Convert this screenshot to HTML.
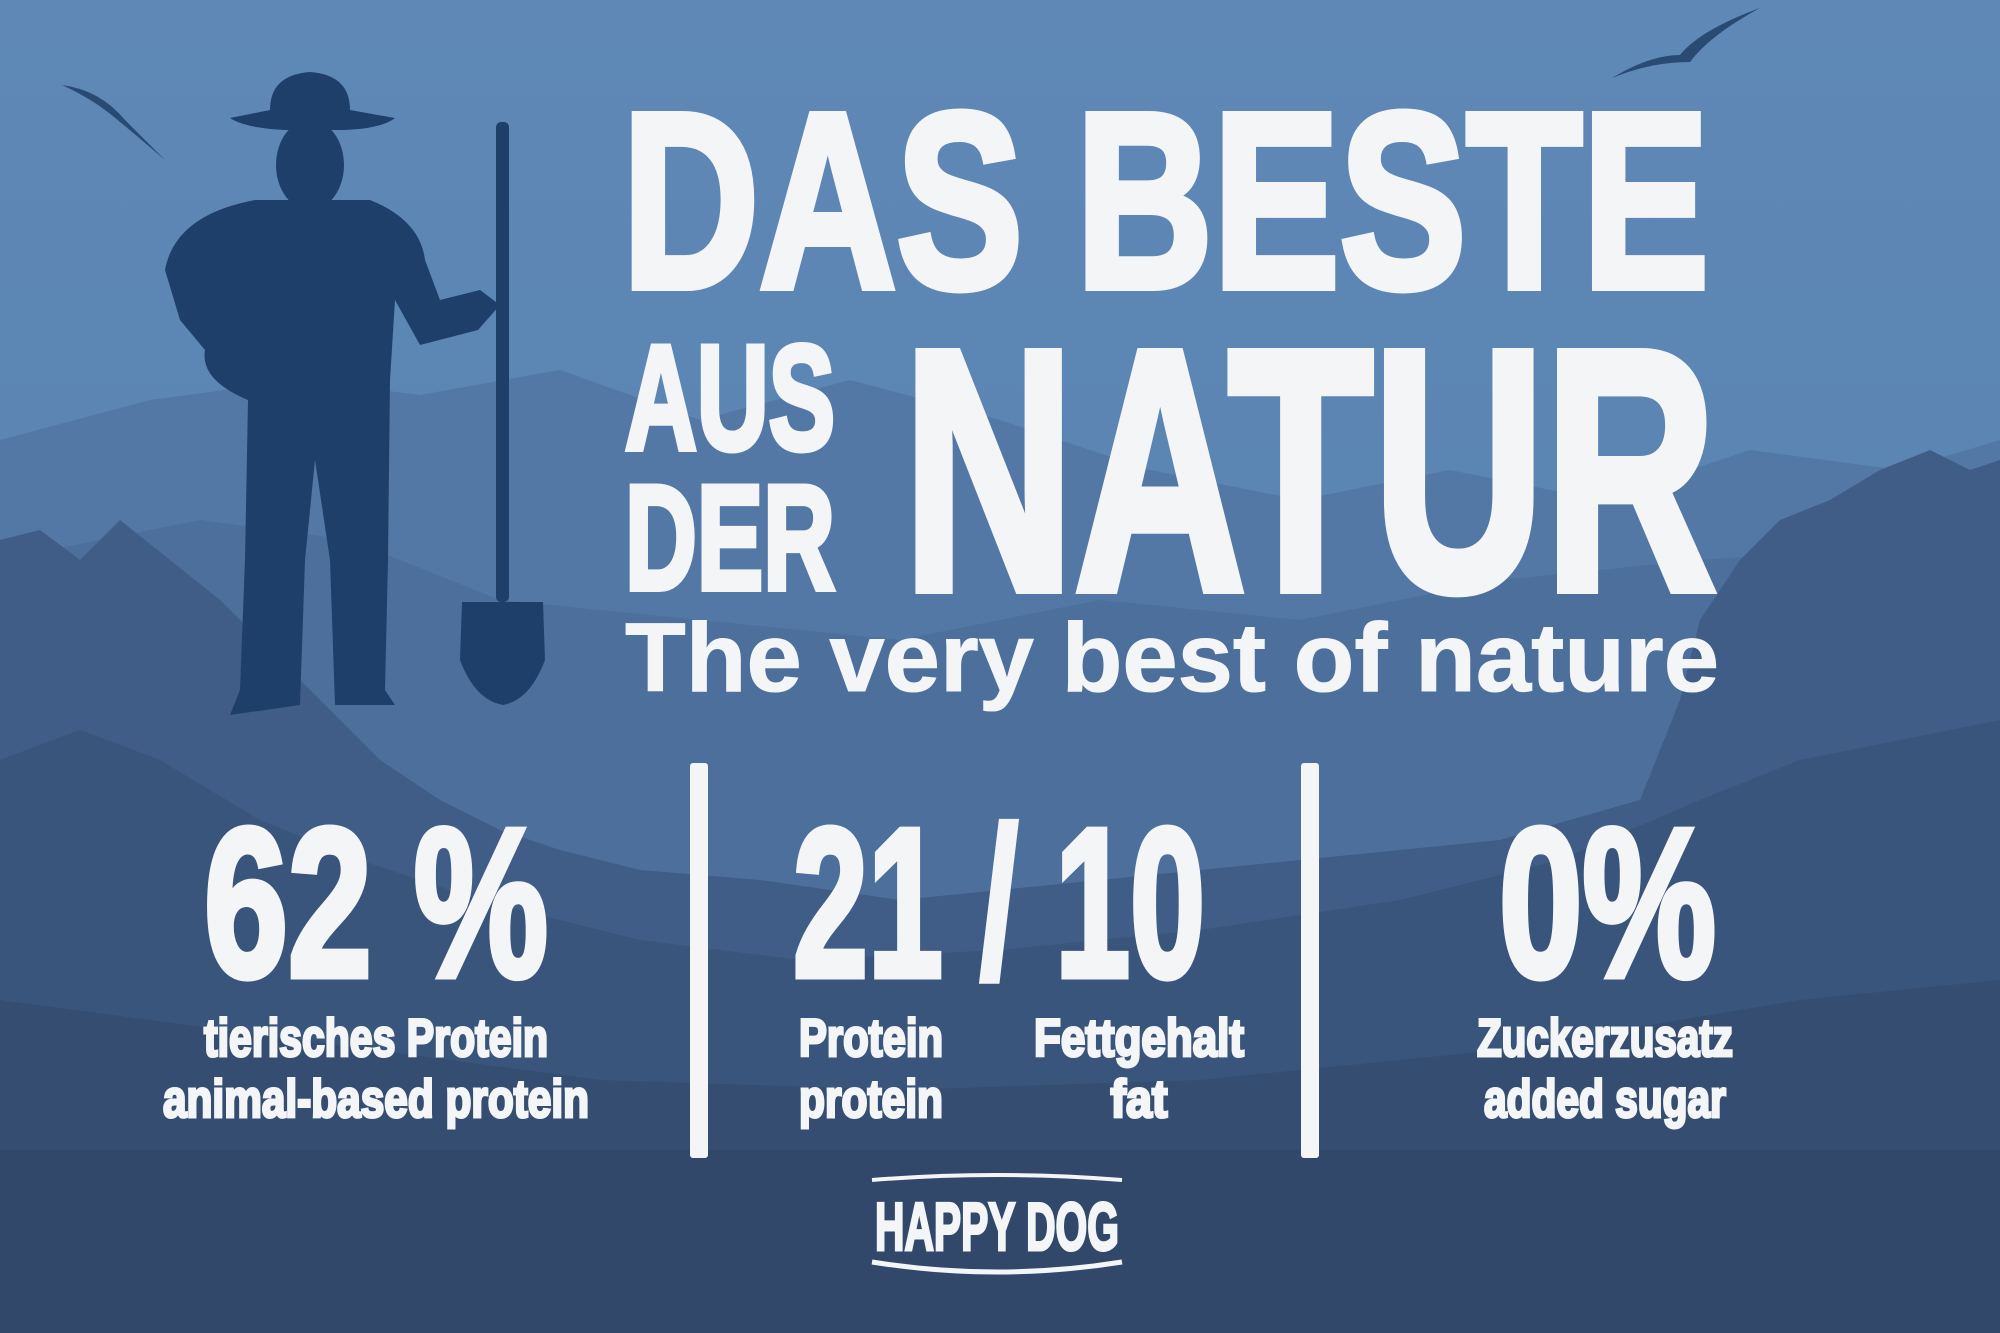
<!DOCTYPE html>
<html><head><meta charset="utf-8"><style>
html,body{margin:0;padding:0;width:2000px;height:1333px;overflow:hidden;background:#4a6d98}
svg{display:block}
.t{font-family:"Liberation Sans Narrow","Liberation Sans",sans-serif;font-weight:bold;fill:#f4f5f7;stroke:#f4f5f7;stroke-width:3}
</style></head><body>
<svg width="2000" height="1333" viewBox="0 0 2000 1333" xmlns="http://www.w3.org/2000/svg">
<defs>
<linearGradient id="sky" x1="0" y1="0" x2="0" y2="1">
<stop offset="0" stop-color="#5f88b7"/><stop offset="0.45" stop-color="#5a84b2"/><stop offset="1" stop-color="#4d719d"/>
</linearGradient>
</defs>
<rect width="2000" height="1333" fill="url(#sky)"/>
<path d="M0 440 L150 400 L300 380 L420 395 L560 370 L700 420 L850 380 L1000 420 L1150 470 L1300 500 L1450 470 L1600 500 L1750 450 L1900 470 L2000 440 L2000 1333 L0 1333Z" fill="#5378a5"/>
<path d="M0 560 L200 520 L350 540 L500 600 L700 620 L900 640 L1100 600 L1300 620 L1500 580 L1700 560 L2000 540 L2000 1333 L0 1333Z" fill="#4c6f9b"/>
<path d="M0 540 L40 530 L80 560 L120 520 L170 560 L220 600 L260 640 L320 700 L380 760 L440 800 L500 830 L560 850 L640 870 L760 880 L900 900 L1100 880 L1300 860 L1500 840 L1640 800 L1680 700 L1700 620 L1740 560 L1780 520 L1830 500 L1880 470 L1930 450 L1970 470 L2000 460 L2000 1333 L0 1333Z" fill="#3f5d86"/>
<path d="M0 760 L80 730 L160 760 L260 820 L360 860 L480 900 L640 940 L800 960 L1000 950 L1200 930 L1400 900 L1560 860 L1700 800 L1800 760 L1900 740 L2000 720 L2000 1333 L0 1333Z" fill="#39557b"/>
<path d="M0 1000 L300 1040 L600 1080 L900 1090 L1200 1080 L1500 1050 L1800 1000 L2000 980 L2000 1333 L0 1333Z" fill="#344d71"/>
<rect y="1150" width="2000" height="183" fill="#31486a"/>
<path d="M62 85 Q100 90 125 120 Q135 130 165 160 Q130 130 120 122 Q95 100 62 85Z" fill="#294a73"/>
<path d="M1612 78 Q1650 55 1680 55 Q1700 30 1760 8 Q1710 35 1690 62 Q1650 62 1612 78Z" fill="#294a73"/>
<g fill="#1f3f6b">
<path d="M270 110 Q270 75 310 72 Q350 75 350 110 L395 118 Q380 130 335 130 L285 130 Q245 128 230 118Z"/>
<ellipse cx="310" cy="165" rx="34" ry="45"/>
<path d="M255 200 L370 200 Q420 220 425 260 L440 300 L480 290 L500 305 L478 330 L420 345 L395 300 L390 380 L388 560 L385 690 L395 705 L335 705 L330 560 L315 460 L305 560 L300 705 L230 715 L240 690 L245 560 L248 400 Q200 380 205 350 L180 320 L165 270 Q175 215 255 200Z"/>
<rect x="496" y="122" width="13" height="480" rx="5"/>
<path d="M462 602 L543 602 L545 660 Q530 700 503 705 Q475 700 460 660Z"/>
</g>
<text class="t" x="622" y="287" font-size="250" textLength="1087" lengthAdjust="spacingAndGlyphs" style="stroke-width:8">DAS BESTE</text>
<text class="t" x="625" y="449" font-size="149" textLength="210" lengthAdjust="spacingAndGlyphs" style="stroke-width:6">AUS</text>
<text class="t" x="625" y="589" font-size="149" textLength="210" lengthAdjust="spacingAndGlyphs" style="stroke-width:6">DER</text>
<text class="t" x="903" y="589" font-size="343" textLength="813" lengthAdjust="spacingAndGlyphs" style="stroke-width:10">NATUR</text>
<text class="t" x="625" y="691" font-size="97" textLength="1094" lengthAdjust="spacingAndGlyphs" style="font-family:'Liberation Sans',sans-serif;stroke-width:1">The very best of nature</text>
<text class="t" x="204" y="976" font-size="212" textLength="344" lengthAdjust="spacingAndGlyphs" style="stroke-width:7">62 %</text>
<text class="t" x="793" y="976" font-size="212" textLength="412" lengthAdjust="spacingAndGlyphs" style="stroke-width:7">21 / 10</text>
<text class="t" x="1499" y="976" font-size="212" textLength="217" lengthAdjust="spacingAndGlyphs" style="stroke-width:7">0%</text>
<rect x="690" y="763" width="18" height="395" rx="3" fill="#f4f5f7"/>
<rect x="1301" y="763" width="18" height="395" rx="3" fill="#f4f5f7"/>
<g font-size="53" text-anchor="middle">
<text class="t" x="376" y="1056" textLength="344" lengthAdjust="spacingAndGlyphs">tierisches Protein</text>
<text class="t" x="376" y="1117" textLength="426" lengthAdjust="spacingAndGlyphs">animal-based protein</text>
<text class="t" x="871" y="1056" textLength="144" lengthAdjust="spacingAndGlyphs">Protein</text>
<text class="t" x="871" y="1117" textLength="144" lengthAdjust="spacingAndGlyphs">protein</text>
<text class="t" x="1139" y="1056" textLength="210" lengthAdjust="spacingAndGlyphs">Fettgehalt</text>
<text class="t" x="1139" y="1117" textLength="57" lengthAdjust="spacingAndGlyphs">fat</text>
<text class="t" x="1605" y="1056" textLength="256" lengthAdjust="spacingAndGlyphs">Zuckerzusatz</text>
<text class="t" x="1605" y="1117" textLength="242" lengthAdjust="spacingAndGlyphs">added sugar</text>
</g>
<path d="M872 1180 Q997 1170 1122 1180" stroke="#f4f5f7" stroke-width="4" fill="none"/>
<text class="t" x="875" y="1250" font-size="68" textLength="244" lengthAdjust="spacingAndGlyphs">HAPPY DOG</text>
<path d="M872 1262 Q997 1282 1122 1262" stroke="#f4f5f7" stroke-width="5" fill="none"/>
</svg>
</body></html>
